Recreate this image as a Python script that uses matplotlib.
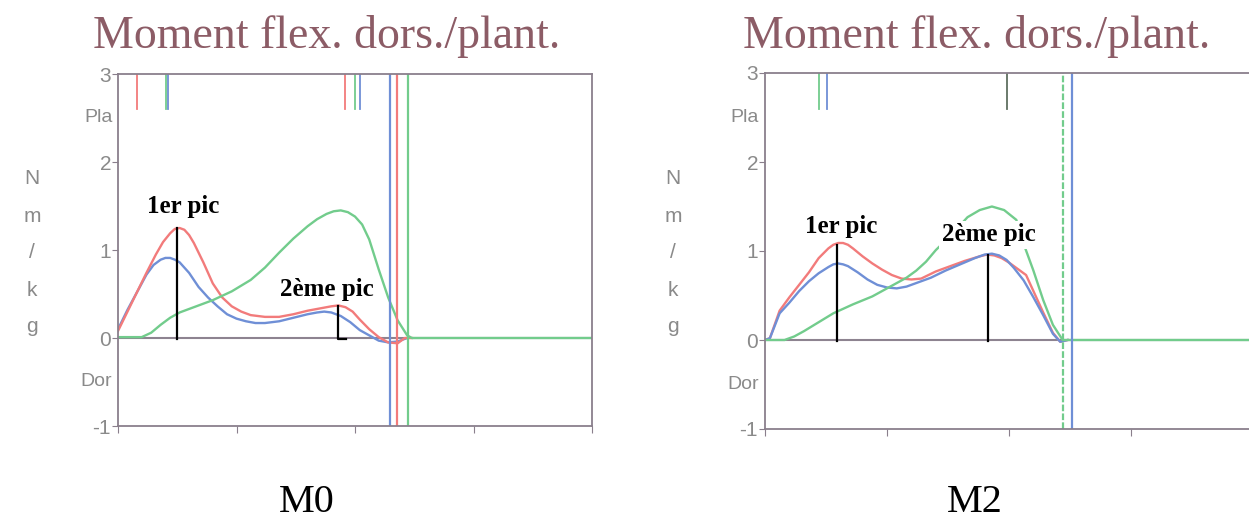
import matplotlib.pyplot as plt

# ---- data (x = % of cycle, y = Nm/kg) ----
m0_red_x = [0, 2, 4, 6, 8, 9.5, 11, 12, 13, 14, 15, 16, 17, 18, 20, 22, 24, 26, 28, 31, 34, 37, 40, 43, 45, 46.5, 48, 49.5, 51, 53, 55, 57, 59, 60.5, 62]
m0_red_y = [0.08, 0.3, 0.52, 0.74, 0.95, 1.09, 1.19, 1.24, 1.25, 1.23, 1.17, 1.08, 0.97, 0.86, 0.62, 0.46, 0.36, 0.30, 0.26, 0.24, 0.24, 0.27, 0.31, 0.34, 0.36, 0.37, 0.35, 0.30, 0.21, 0.10, 0.01, -0.05, -0.06, 0.0, 0.0]
m0_blue_x = [0, 2, 4, 6, 7.5, 9, 10, 11, 12, 13, 15, 17, 19, 21, 23, 25, 27, 29, 31, 34, 37, 40, 42, 43.5, 45, 47, 49, 51, 53, 55, 57, 59, 61]
m0_blue_y = [0.1, 0.32, 0.52, 0.72, 0.83, 0.89, 0.91, 0.91, 0.89, 0.86, 0.74, 0.58, 0.46, 0.36, 0.27, 0.22, 0.19, 0.17, 0.17, 0.19, 0.23, 0.27, 0.29, 0.30, 0.29, 0.25, 0.18, 0.09, 0.03, -0.03, -0.05, -0.04, 0.0]
m0_green_x = [0, 5, 7, 9, 11, 13, 16, 20, 24, 28, 31, 34, 37, 40, 42, 44, 45.5, 47, 48.5, 50, 51.5, 53, 55, 57, 59, 61, 62, 100]
m0_green_y = [0.01, 0.01, 0.06, 0.15, 0.23, 0.29, 0.35, 0.43, 0.53, 0.66, 0.80, 0.97, 1.13, 1.27, 1.35, 1.41, 1.44, 1.45, 1.43, 1.38, 1.29, 1.12, 0.78, 0.46, 0.20, 0.03, 0.0, 0.0]

m2_red_x = [0, 1, 3, 5, 7, 9, 11, 13, 14, 15, 16, 17, 18, 20, 22, 24, 26, 28, 30, 32, 35, 38, 41, 44, 45.5, 47, 48.5, 50, 52, 53.5, 55, 57, 59, 60.5, 62]
m2_red_y = [0.0, 0.02, 0.33, 0.48, 0.62, 0.76, 0.92, 1.03, 1.07, 1.09, 1.09, 1.07, 1.03, 0.94, 0.86, 0.79, 0.73, 0.69, 0.68, 0.69, 0.77, 0.83, 0.89, 0.94, 0.96, 0.95, 0.92, 0.87, 0.79, 0.73, 0.55, 0.31, 0.08, -0.02, 0.0]
m2_blue_x = [0, 1, 3, 5, 7, 9, 11, 13, 14, 15, 16, 17, 19, 21, 23, 25, 27, 29, 31, 34, 37, 40, 43, 45, 46.5, 48, 49.5, 51, 53, 55, 57, 59, 60.5, 62]
m2_blue_y = [0.0, 0.02, 0.30, 0.42, 0.55, 0.66, 0.75, 0.82, 0.85, 0.86, 0.85, 0.83, 0.76, 0.68, 0.62, 0.59, 0.58, 0.60, 0.64, 0.70, 0.78, 0.85, 0.92, 0.96, 0.97, 0.95, 0.90, 0.81, 0.67, 0.48, 0.28, 0.07, -0.02, 0.0]
m2_green_x = [0, 4, 6, 8, 11, 14, 18, 22, 26, 29, 31, 33, 35, 38, 41.5, 44, 46.5, 49, 51.5, 53, 55, 57, 59, 61, 100]
m2_green_y = [0.0, 0.0, 0.04, 0.10, 0.20, 0.30, 0.40, 0.49, 0.61, 0.70, 0.78, 0.88, 1.01, 1.17, 1.38, 1.46, 1.50, 1.46, 1.35, 1.08, 0.78, 0.45, 0.17, 0.0, 0.0]

# event markers: short ticks at the top and full-height lines
m0_top_ticks = {"red": [4.0, 47.9], "green": [10.2, 50.0], "blue": [10.6, 51.1]}
m0_vlines = {"blue": 57.4, "red": 58.9, "green": 61.2}
m2_top_ticks = {"green": [11.1], "blue": [12.7], "gray": [49.6]}
m2_vlines = {"green": 61.1, "blue": 62.9}

# peak annotations: (label, x, y_peak, label_x, label_y, foot)
m0_peaks = [("1er pic", 12.4, 1.25, 13.8, 1.49, 0), ("2ème pic", 46.4, 0.36, 44.0, 0.55, 1.8)]
m2_peaks = [("1er pic", 14.7, 1.07, 15.7, 1.28, 0), ("2ème pic", 45.7, 0.95, 45.8, 1.18, 0)]

y_ticks = [-1, 0, 1, 2, 3]
y_ticklabels = ["-1", "0", "1", "2", "3"]
x_ticks = [0, 25, 50, 75, 100]

colors = {"red": "#f27b7b", "blue": "#6f8fd6", "green": "#72cc8c", "gray": "#5f6f60"}
spine_c = "#8a7f8c"
label_c = "#8a8a8a"
title_c = "#8c5c66"

W, H = 1249, 525
fig = plt.figure(figsize=(W / 100, H / 100), dpi=100)


def panel(rect, curves, top_ticks, vlines, peaks, name, title_x, nmkg_x, name_x, dashed_green=False):
    ax = fig.add_axes(rect)
    ax.set_xlim(0, 100)
    ax.set_ylim(-1, 3)
    for s in ax.spines.values():
        s.set_color(spine_c)
        s.set_linewidth(1.3)
    ax.set_yticks(y_ticks)
    ax.set_yticklabels(y_ticklabels, fontsize=15, color=label_c, family="Liberation Sans")
    ax.set_xticks(x_ticks)
    ax.set_xticklabels([])
    ax.tick_params(axis="y", length=4, pad=1, color=spine_c)
    ax.tick_params(axis="x", length=5, color=spine_c, direction="out")
    ax.axhline(0, color="#8d8390", lw=1.5, zorder=1)

    for c, xs, ys in curves:
        ax.plot(xs, ys, color=colors[c], lw=1.7, zorder=2)
    for c, xs in top_ticks.items():
        for xv in xs:
            ax.plot([xv, xv], [3, 2.6], color=colors[c], lw=1.3)
    for c, xv in vlines.items():
        ls = (0, (3, 1)) if (dashed_green and c == "green") else "-"
        ax.axvline(xv, color=colors[c], lw=1.6, ls=ls)

    for lab, px, py, tx, ty, foot in peaks:
        ax.plot([px + foot, px, px], [-0.01, -0.01, py], color="black", lw=1.6, zorder=3)
        ax.text(tx, ty, lab, ha="center", va="center", fontsize=18, weight="bold",
                family="Liberation Serif", zorder=4,
                bbox=dict(boxstyle="square,pad=0.1", fc="white", ec="none"))

    ax.text(-0.012, 2.5, "Pla", transform=ax.get_yaxis_transform(), ha="right", va="center",
            fontsize=14, color=label_c, family="Liberation Sans")
    ax.text(-0.012, -0.5, "Dor", transform=ax.get_yaxis_transform(), ha="right", va="center",
            fontsize=14, color=label_c, family="Liberation Sans")

    fig.text(title_x / W, 1 - 37 / H, "Moment flex. dors./plant.", ha="center", va="center",
             fontsize=33, color=title_c, family="Liberation Serif")
    for i, ch in enumerate("Nm/kg"):
        fig.text(nmkg_x / W, 1 - (179 + i * 37) / H, ch, ha="center", va="center",
                 fontsize=15, color=label_c, family="Liberation Sans")
    fig.text(name_x / W, 1 - 512 / H, name, ha="center", va="baseline", fontsize=29,
             family="Liberation Serif")
    return ax


panel([118 / W, (H - 426) / H, 474 / W, 352 / H],
      [("blue", m0_blue_x, m0_blue_y), ("red", m0_red_x, m0_red_y), ("green", m0_green_x, m0_green_y)],
      m0_top_ticks, m0_vlines, m0_peaks, "M0", 327, 32, 307)
panel([765 / W, (H - 429) / H, 488 / W, 356 / H],
      [("red", m2_red_x, m2_red_y), ("blue", m2_blue_x, m2_blue_y), ("green", m2_green_x, m2_green_y)],
      m2_top_ticks, m2_vlines, m2_peaks, "M2", 977, 673, 975, dashed_green=True)

fig.savefig("out.png", dpi=100)
